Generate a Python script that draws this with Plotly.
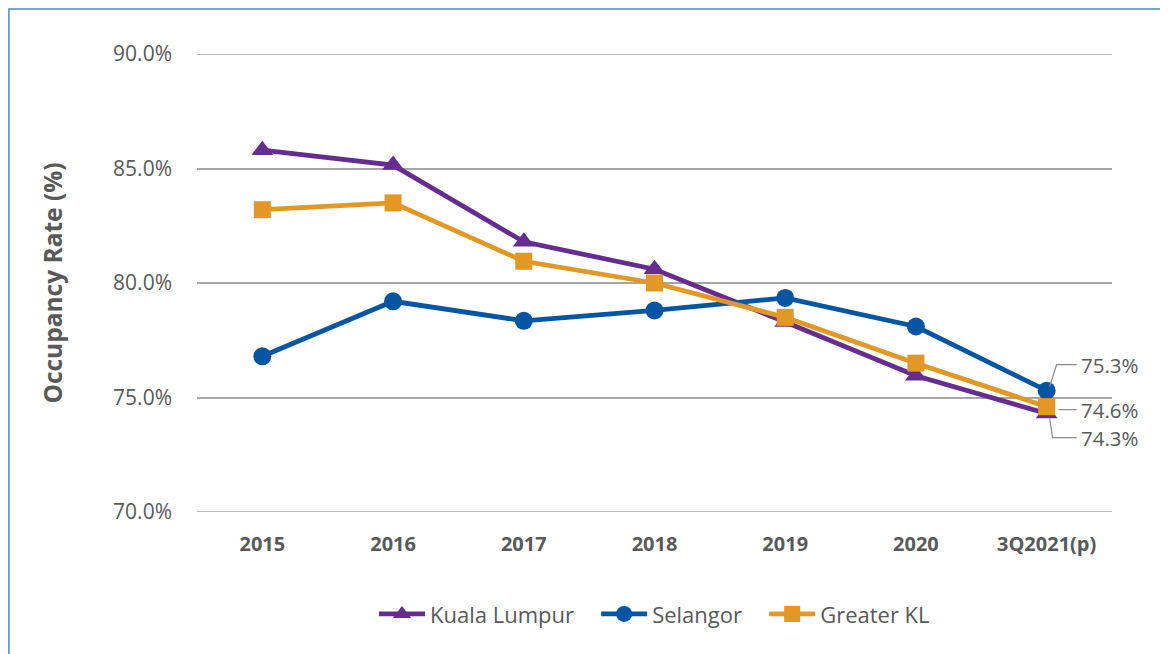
import plotly.graph_objects as go

years = ["2015", "2016", "2017", "2018", "2019", "2020", "3Q2021(p)"]
kuala_lumpur = [85.8, 85.15, 81.8, 80.6, 78.3, 75.95, 74.3]
selangor = [76.8, 79.2, 78.35, 78.8, 79.35, 78.1, 75.3]
greater_kl = [83.2, 83.5, 80.95, 80.0, 78.5, 76.5, 74.6]
y_ticks = [70, 75, 80, 85, 90]
y_tick_labels = ["70.0%", "75.0%", "80.0%", "85.0%", "90.0%"]

PURPLE = "#662D91"
BLUE = "#0455A4"
ORANGE = "#E39825"
GRAY = "#595959"
GRID = "#A6A6A6"
FONT = "Open Sans"
PAD = "\u00a0\u00a0\u00a0"

# page body has an 8px margin: layout below is expressed relative to the figure
L, T, PW, PH = 189, 46, 915, 458
W, H = 1160, 646

fig = go.Figure()
fig.add_trace(go.Scatter(x=years, y=kuala_lumpur, name="Kuala Lumpur" + PAD, mode="lines+markers",
                         line=dict(color=PURPLE, width=4.8),
                         marker=dict(symbol="triangle-up", size=19, color=PURPLE)))
fig.add_trace(go.Scatter(x=years, y=selangor, name="Selangor" + PAD, mode="lines+markers",
                         line=dict(color=BLUE, width=4.8),
                         marker=dict(symbol="circle", size=18, color=BLUE)))
fig.add_trace(go.Scatter(x=years, y=greater_kl, name="Greater KL", mode="lines+markers",
                         line=dict(color=ORANGE, width=4.8),
                         marker=dict(symbol="square", size=17, color=ORANGE)))

last = len(years) - 1
end_vals = [selangor[-1], greater_kl[-1], kuala_lumpur[-1]]
yshifts = [26, -3, -24]
paths = [
    "M3,4 L10,26 L30,26",
    "M12,-3 L30,-3",
    "M3,-5 L6,-24 L30,-24",
]
for v, ys, p in zip(end_vals, yshifts, paths):
    fig.add_annotation(x=last, y=v, text=f"{v:.1f}%", showarrow=False,
                       xanchor="left", yanchor="middle", xshift=32, yshift=ys,
                       font=dict(family=FONT, size=20.5, color=GRAY))
    fig.add_shape(type="path", xref="x", yref="y", xsizemode="pixel", ysizemode="pixel",
                  xanchor=last, yanchor=v, path=p,
                  line=dict(color="#8C8C8C", width=1.2))

# gridlines at the range edges (plotly omits them)
for v in (y_ticks[0], y_ticks[-1]):
    fig.add_shape(type="line", xref="paper", yref="y", x0=0, x1=1, y0=v, y1=v,
                  line=dict(color=GRID, width=1.5), layer="below")

# outer frame (only top/left edges visible in reference)
fig.add_shape(type="rect", xref="paper", yref="paper",
              x0=-L / PW + 0.001, x1=1.2, y0=-0.4, y1=(PH + T) / PH - 0.002,
              line=dict(color="#4A86C5", width=1.5), layer="below")

fig.update_layout(
    width=W, height=H,
    margin=dict(l=L, r=W - L - PW, t=T, b=H - T - PH),
    paper_bgcolor="white", plot_bgcolor="white",
    font=dict(family=FONT, color=GRAY),
    showlegend=True,
    legend=dict(orientation="h", x=0.5, xanchor="center", y=-0.223, yanchor="middle",
                font=dict(family=FONT, size=22, color=GRAY), itemwidth=46),
    xaxis=dict(type="category", range=[-0.5, 6.5], showgrid=False, zeroline=False,
               showline=False, ticks="", ticklabelstandoff=18,
               tickfont=dict(family=FONT, size=20, color=GRAY, weight="bold")),
    yaxis=dict(range=[70, 90], tickvals=y_ticks, ticktext=y_tick_labels,
               showgrid=True, gridcolor=GRID, gridwidth=1.5, zeroline=False,
               showline=False, ticks="", ticklabelstandoff=24,
               tickfont=dict(family=FONT, size=21, color=GRAY),
               title=dict(text="Occupancy Rate (%)", standoff=43,
                          font=dict(family=FONT, size=24.5, color=GRAY, weight="bold"))),
)

fig.write_html("out.html")
